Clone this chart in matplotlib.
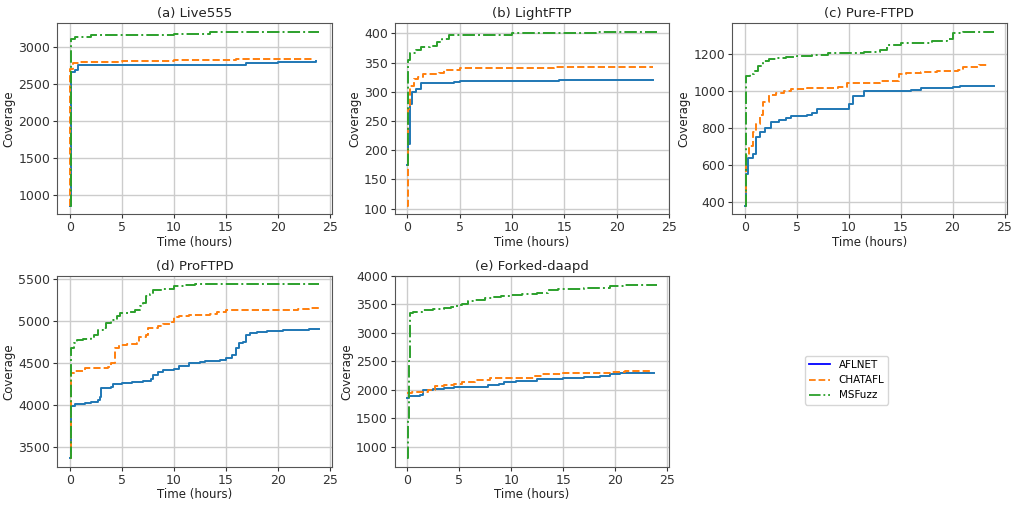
import matplotlib
matplotlib.use("Agg")
import matplotlib.pyplot as plt
from matplotlib.lines import Line2D

fuzzers = ["AFLNET", "CHATAFL", "MSFuzz"]
titles = ["(a) Live555", "(b) LightFTP", "(c) Pure-FTPD", "(d) ProFTPD", "(e) Forked-daapd"]

# (time in hours, coverage) breakpoints
live555 = {
    "AFLNET": ([0, 0.1, 0.5, 0.8, 16.3, 17, 20, 23.7],
               [850, 2650, 2680, 2750, 2755, 2780, 2790, 2800]),
    "CHATAFL": ([0, 0.05, 0.3, 1, 5, 10, 16, 23.3],
                [850, 2700, 2780, 2790, 2800, 2820, 2830, 2830]),
    "MSFuzz": ([0, 0.1, 0.5, 2, 4, 10, 13.5, 20, 24],
               [850, 3100, 3130, 3150, 3160, 3165, 3190, 3195, 3200]),
}
lightftp = {
    "AFLNET": ([0, 0.1, 0.3, 0.5, 0.8, 1.3, 4.5, 5, 14.5, 23.5],
               [175, 210, 280, 300, 305, 315, 316, 318, 320, 320]),
    "CHATAFL": ([0, 0.1, 0.3, 0.6, 1, 1.5, 3, 3.5, 5, 12, 14, 23.5],
                [105, 270, 310, 322, 325, 330, 332, 337, 340, 341, 343, 343]),
    "MSFuzz": ([0, 0.1, 0.3, 0.8, 1.3, 2.2, 2.8, 3.3, 4, 6, 10, 14.5, 18, 20, 23.8],
               [175, 355, 367, 372, 377, 378, 385, 390, 397, 398, 400, 401, 402, 403, 403]),
}
pureftpd = {
    "AFLNET": ([0, 0.1, 0.3, 0.8, 1.1, 1.5, 2, 2.5, 3.3, 4, 4.5, 6, 6.5, 7, 9.5, 10, 10.4, 11.5, 16, 17, 20, 20.7, 24],
               [380, 550, 640, 660, 750, 780, 800, 830, 845, 855, 865, 870, 880, 900, 900, 930, 970, 1000, 1005, 1015, 1020, 1025, 1025]),
    "CHATAFL": ([0, 0.1, 0.4, 0.8, 1.1, 1.5, 1.8, 2.3, 3, 3.8, 4.5, 6, 9, 9.8, 12, 13, 14.8, 15.5, 17, 18.5, 20.5, 21, 22.5, 23.3],
                [400, 650, 700, 780, 820, 870, 940, 980, 990, 1000, 1010, 1015, 1020, 1045, 1045, 1055, 1090, 1095, 1100, 1110, 1115, 1130, 1140, 1140]),
    "MSFuzz": ([0, 0.1, 0.5, 0.9, 1.3, 1.8, 2.3, 3, 4, 5, 6.5, 8, 10, 11.5, 13, 13.7, 15, 17, 18, 19.5, 20, 21, 24],
               [380, 1080, 1090, 1110, 1135, 1160, 1175, 1180, 1185, 1190, 1195, 1205, 1205, 1210, 1220, 1250, 1260, 1260, 1270, 1280, 1315, 1320, 1320]),
}
proftpd = {
    "AFLNET": ([0, 0.1, 0.5, 1.5, 2, 2.7, 2.9, 3, 4, 4.2, 5, 6, 7, 7.8, 8, 8.5, 9, 10, 10.5, 11.5, 12.5, 13, 14.5, 15, 15.6, 16, 16.3, 16.7, 17, 17.3, 18, 19, 20.5, 23, 24],
               [3370, 3990, 4020, 4030, 4040, 4060, 4100, 4210, 4215, 4250, 4270, 4280, 4290, 4310, 4360, 4400, 4420, 4430, 4470, 4500, 4520, 4530, 4540, 4560, 4600, 4680, 4740, 4760, 4840, 4860, 4870, 4890, 4895, 4910, 4910]),
    "CHATAFL": ([0, 0.1, 0.4, 1.5, 2.5, 3.7, 4, 4.3, 4.7, 5.5, 6.5, 6.7, 7.3, 7.5, 8.5, 9, 9.8, 10, 10.5, 11.5, 13.5, 14.2, 15, 18, 20, 22, 23, 24],
                [3370, 4380, 4410, 4440, 4450, 4460, 4500, 4680, 4720, 4730, 4740, 4810, 4840, 4920, 4940, 4970, 4990, 5050, 5060, 5080, 5090, 5110, 5130, 5130, 5135, 5150, 5160, 5160]),
    "MSFuzz": ([0, 0.1, 0.4, 0.7, 1.3, 2, 2.3, 2.7, 3.2, 3.5, 4, 4.5, 4.8, 5.7, 6.3, 6.8, 7, 7.3, 7.7, 8, 9, 10, 11, 12, 24],
               [3370, 4680, 4740, 4780, 4790, 4810, 4840, 4900, 4920, 4980, 5020, 5060, 5100, 5110, 5130, 5180, 5220, 5300, 5330, 5370, 5390, 5420, 5430, 5440, 5440]),
}
forked = {
    "AFLNET": ([0, 0.2, 1.2, 1.5, 2.5, 3.5, 4.5, 7.5, 7.8, 8.8, 9.3, 10.5, 11.5, 12.5, 15, 16, 17, 18.5, 19.5, 20.5, 23.7],
               [1850, 1900, 1910, 2000, 2010, 2030, 2050, 2055, 2080, 2100, 2140, 2150, 2160, 2190, 2200, 2210, 2230, 2250, 2280, 2290, 2290]),
    "CHATAFL": ([0, 0.5, 1.5, 2, 2.7, 3.5, 4.5, 5.3, 6.5, 8, 9, 11.5, 12.2, 13, 15, 17, 19.5, 21, 23.5],
                [1950, 1960, 1970, 2000, 2060, 2080, 2110, 2140, 2170, 2200, 2210, 2210, 2250, 2270, 2290, 2300, 2320, 2330, 2340]),
    "MSFuzz": ([0, 0.05, 0.15, 0.25, 0.6, 1.5, 2.5, 3.5, 4.2, 4.8, 5.3, 5.8, 6.5, 7.5, 8.3, 9, 10, 11, 12.5, 13.5, 14.5, 17, 19.5, 21, 22, 24],
               [800, 1500, 2500, 3350, 3370, 3400, 3420, 3440, 3450, 3490, 3500, 3560, 3580, 3600, 3630, 3640, 3660, 3680, 3690, 3750, 3760, 3780, 3810, 3830, 3840, 3840]),
}
datasets = [live555, lightftp, pureftpd, proftpd, forked]
yticks = [[1000, 1500, 2000, 2500, 3000], [100, 150, 200, 250, 300, 350, 400],
          [400, 600, 800, 1000, 1200], [3500, 4000, 4500, 5000, 5500],
          [1000, 1500, 2000, 2500, 3000, 3500, 4000]]

colors = {"AFLNET": "#1f77b4", "CHATAFL": "#ff7f0e", "MSFuzz": "#2ca02c"}
styles = {"AFLNET": "-", "CHATAFL": "--", "MSFuzz": "-."}

plt.rcParams["font.size"] = 8.5
fig, axes = plt.subplots(2, 3, figsize=(10.24, 5.11), dpi=100)
fig.subplots_adjust(left=0.056, right=0.983, top=0.955, bottom=0.086, wspace=0.23, hspace=0.32)

for ax, title, data, yt in zip(axes.flat, titles, datasets, yticks):
    for name in fuzzers:
        t, v = data[name]
        ax.plot(t, v, styles[name], color=colors[name], lw=1.4, drawstyle="steps-post")
    ax.set_title(title, fontsize=9.5, pad=4, color="#222222")
    ax.set_xlabel("Time (hours)", fontsize=8.5, labelpad=1, color="#222222")
    ax.set_ylabel("Coverage", fontsize=8.5, labelpad=2, color="#222222")
    ax.set_xticks([0, 5, 10, 15, 20, 25])
    ax.set_yticks(yt)
    ax.grid(True, color="#cccccc", lw=1.0)
    ax.tick_params(colors="#333333", labelsize=9, length=3, pad=2)
    for s in ax.spines.values():
        s.set_color("#555555")

axes[1, 2].axis("off")
axes[1, 1].set_ylim(top=4000)

handles = [Line2D([], [], color="blue", ls="-", lw=1.3),
           Line2D([], [], color=colors["CHATAFL"], ls="--", lw=1.3),
           Line2D([], [], color=colors["MSFuzz"], ls="-.", lw=1.3)]
fig.legend(handles, fuzzers, loc="center", bbox_to_anchor=(0.827, 0.256), fontsize=7.5)

fig.savefig("out.png")
